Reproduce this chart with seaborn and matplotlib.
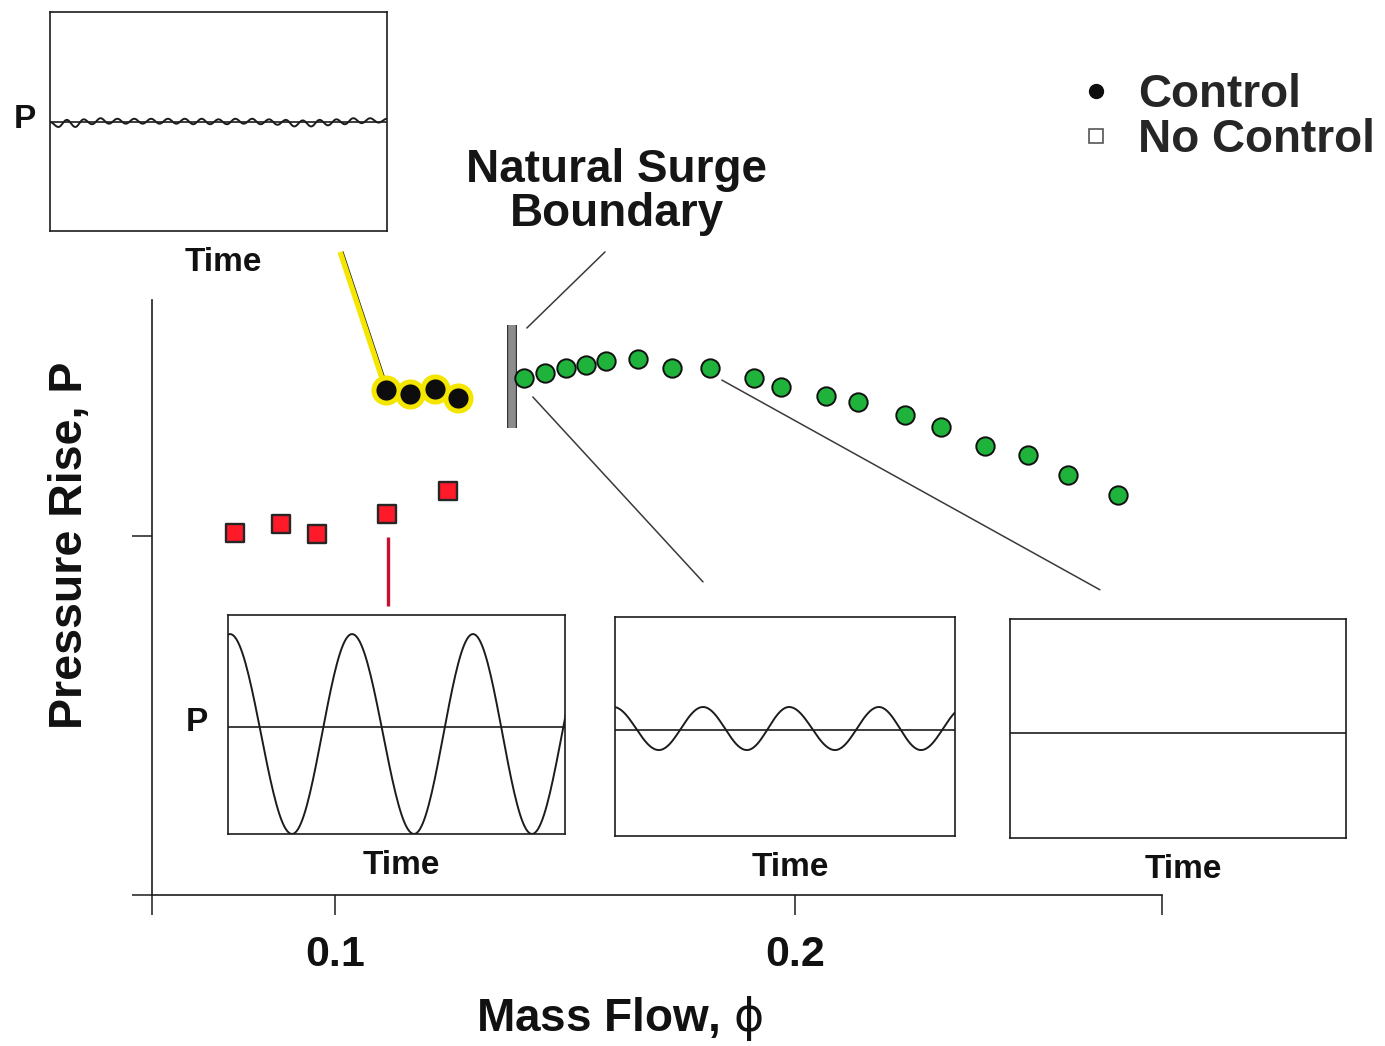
import numpy as np
import pandas as pd
import matplotlib
matplotlib.use("Agg")
import matplotlib.pyplot as plt
import matplotlib.patheffects as pe
from matplotlib.lines import Line2D
import seaborn as sns

# ---------------- data ----------------
# naturally stable operating points (green)
stable_phi = [0.1411, 0.1457, 0.1502, 0.1546, 0.1589, 0.1659, 0.1733, 0.1815, 0.1911,
              0.1970, 0.2067, 0.2137, 0.2239, 0.2317, 0.2413, 0.2507, 0.2593, 0.2702]
stable_P = [1.440, 1.455, 1.468, 1.476, 1.488, 1.492, 1.469, 1.468, 1.440,
            1.416, 1.390, 1.373, 1.338, 1.304, 1.251, 1.224, 1.171, 1.114]
# with control, beyond the natural surge line (black, yellow halo)
control_phi = [0.1111, 0.1163, 0.1217, 0.1267]
control_P = [1.407, 1.396, 1.409, 1.384]
# without control, in surge (red squares)
nocontrol_phi = [0.0783, 0.0883, 0.0961, 0.1113, 0.1246]
nocontrol_P = [1.008, 1.033, 1.006, 1.061, 1.125]

surge_boundary_phi = 0.1385
surge_boundary_P = [1.301, 1.588]

x_limits = [0.0602, 0.2798]
y_limits = [0.0, 1.657]
x_tick_values = [0.0602, 0.1, 0.2, 0.2798]
x_tick_labels = ["", "0.1", "0.2", ""]
y_tick_values = [0.0, 1.0]

legend_labels = ["Control", "No Control"]

# inset waveforms: extrema (time fraction, P)
ripple_P = [0.00, -0.045, 0.02, -0.045, 0.025, -0.02, 0.035, -0.015, 0.03, -0.015, 0.03,
            -0.015, 0.03, -0.015, 0.03, -0.015, 0.03, -0.02, 0.03, -0.02, 0.025, -0.02,
            0.03, -0.015, 0.03, -0.02, 0.025, -0.025, 0.02, -0.04, 0.015, -0.04, 0.02,
            -0.03, 0.025, -0.02, 0.035, -0.01, 0.035, -0.005, 0.03]
surge_t = [-0.176, 0.006, 0.19, 0.368, 0.552, 0.727, 0.902, 1.08]
surge_P = [-1.0, 0.826, -1.0, 0.826, -1.0, 0.826, -1.0, 0.826]
osc_t = [-0.005, 0.129, 0.259, 0.388, 0.512, 0.647, 0.776, 0.900, 1.03]
osc_P = [0.178, -0.215, 0.178, -0.215, 0.178, -0.215, 0.178, -0.215, 0.178]
inset_midlines = [-0.005, -0.023, -0.032, -0.041]


def waveform(t, v, n=40):
    ts, vs = [], []
    for i in range(len(t) - 1):
        s = np.linspace(0, 1, n, endpoint=False)
        ts.extend(t[i] + (t[i + 1] - t[i]) * s)
        vs.extend(v[i] + (v[i + 1] - v[i]) * (1 - np.cos(np.pi * s)) / 2)
    ts.append(t[-1])
    vs.append(v[-1])
    return pd.DataFrame({"t": ts, "P": vs})


# ---------------- styling ----------------
sns.set_theme(style="white")
plt.rcParams["font.family"] = ["Liberation Sans", "DejaVu Sans"]
INK = "#1c1c1c"

W, H = 1385, 1046
fig = plt.figure(figsize=(W / 100, H / 100), dpi=100, facecolor="white")


def px_rect(l, t, r, b):
    return [l / W, 1 - b / H, (r - l) / W, (b - t) / H]


ax = fig.add_axes(px_rect(152, 300, 1162, 895))
ax.set_facecolor("none")

# leader lines (annotation)
lead_kw = dict(color="#3a3a3a", lw=1.1, clip_on=False, zorder=2)
ax.plot([0.1587, 0.1417], [1.791, 1.579], **lead_kw)
ax.plot([0.1430, 0.1800], [1.387, 0.872], **lead_kw)
ax.plot([0.1841, 0.2663], [1.434, 0.850], **lead_kw)

# yellow link to the top-left inset, red link to the surge inset
ax.plot([0.1017, 0.1115], [1.791, 1.412], color=INK, lw=1.0, clip_on=False, zorder=3)
ax.plot([0.1011, 0.1109], [1.791, 1.412], color="#f5e600", lw=3.8, clip_on=False, zorder=3,
        solid_capstyle="butt")
ax.plot([0.1115, 0.1115], [0.997, 0.805], color="#c8102e", lw=2.4, zorder=3,
        solid_capstyle="butt")

# natural surge boundary bar
ax.plot([surge_boundary_phi, surge_boundary_phi], surge_boundary_P, color="#8c8c8c", lw=5.5,
        solid_capstyle="butt", zorder=4,
        path_effects=[pe.Stroke(linewidth=7.2, foreground="#333333"), pe.Normal()])

sns.scatterplot(x=stable_phi, y=stable_P, ax=ax, s=175, color="#1fb33c",
                edgecolor="#111111", linewidth=1.4, zorder=5, legend=False)
sns.scatterplot(x=control_phi, y=control_P, ax=ax, s=470, color="#f5e600",
                linewidth=0, zorder=5, legend=False)
sns.scatterplot(x=control_phi, y=control_P, ax=ax, s=210, color="#0d0d0d",
                linewidth=0, zorder=6, legend=False)
sns.scatterplot(x=nocontrol_phi, y=nocontrol_P, ax=ax, marker="s", s=150, color="#ff1a2a",
                edgecolor="#262626", linewidth=1.7, zorder=5, legend=False)

ax.set_xlim(*x_limits)
ax.set_ylim(*y_limits)
ax.set_xticks(x_tick_values)
ax.set_xticklabels(x_tick_labels)
ax.set_yticks(y_tick_values)
ax.set_yticklabels([])
ax.tick_params(bottom=True, left=True, direction="out", length=14.5, width=1.1,
               color=INK)
ax.tick_params(axis="x", pad=14)
for lab in ax.get_xticklabels():
    lab.set_fontsize(31)
    lab.set_fontweight("bold")
    lab.set_color("#111111")
for side in ["top", "right"]:
    ax.spines[side].set_visible(False)
for side in ["left", "bottom"]:
    ax.spines[side].set_color(INK)
    ax.spines[side].set_linewidth(1.2)

ax.set_xlabel(r"Mass Flow, $\mathrm{\phi}$", fontsize=33, fontweight="bold",
              color="#111111")
ax.xaxis.label.set_va("center")
ax.xaxis.set_label_coords(0.463, -0.208)
ax.set_ylabel("Pressure Rise, P", fontsize=33.5, fontweight="bold", color="#111111")
ax.yaxis.label.set_va("center")
ax.yaxis.set_label_coords(-0.081, 0.588)

ax.text(0.1613, 1.958, "Natural Surge\nBoundary", ha="center", va="center", fontsize=33,
        fontweight="bold", linespacing=1.0, color="#151515", clip_on=False)

# legend
handles = [
    Line2D([], [], ls="none", marker="o", markersize=10, markerfacecolor="#0d0d0d",
           markeredgecolor="#0d0d0d"),
    Line2D([], [], ls="none", marker="s", markersize=10, markerfacecolor="white",
           markeredgecolor="#555555", markeredgewidth=1.2),
]
fig.legend(handles, legend_labels, loc="upper left", bbox_to_anchor=(1082 / W, 1 - 73 / H),
           frameon=False, prop={"weight": "bold", "size": 33},
           handlelength=0.6, handletextpad=0.62, labelspacing=0.03, borderpad=0,
           borderaxespad=0)


# ---------------- insets ----------------
def make_inset(rect, mid, df=None, plabel=None):
    a = fig.add_axes(rect)
    a.set_facecolor("white")
    a.set_xlim(0, 1)
    a.set_ylim(-1, 1)
    a.axhline(mid, color=INK, lw=1.2, zorder=2)
    if df is not None:
        sns.lineplot(data=df, x="t", y="P", ax=a, color=INK, lw=1.4, sort=False,
                     estimator=None, zorder=3)
    a.set_xticks([])
    a.set_yticks([])
    a.set_ylabel("")
    for s in a.spines.values():
        s.set_visible(True)
        s.set_color(INK)
        s.set_linewidth(1.2)
    a.set_xlabel("Time", fontsize=24, fontweight="bold", color="#111111")
    a.xaxis.label.set_va("center")
    a.xaxis.set_label_coords(0.515, -0.146)
    if plabel is not None:
        a.text(plabel, 0.507, "P", transform=a.transAxes, ha="center", va="center",
               fontsize=24, fontweight="bold", color="#111111")
    return a


ripple_t = list(np.linspace(0, 1, len(ripple_P)))
ripple_df = waveform(ripple_t, [inset_midlines[0] + v for v in ripple_P], n=10)
make_inset(px_rect(50, 12, 387, 231), inset_midlines[0], ripple_df, plabel=-0.074)
make_inset(px_rect(228, 615, 565, 834), inset_midlines[1], waveform(surge_t, surge_P),
           plabel=-0.092)
make_inset(px_rect(615, 617, 955, 836), inset_midlines[2], waveform(osc_t, osc_P))
make_inset(px_rect(1010, 619, 1346, 838), inset_midlines[3])

fig.savefig("out.png", dpi=100, facecolor="white")
